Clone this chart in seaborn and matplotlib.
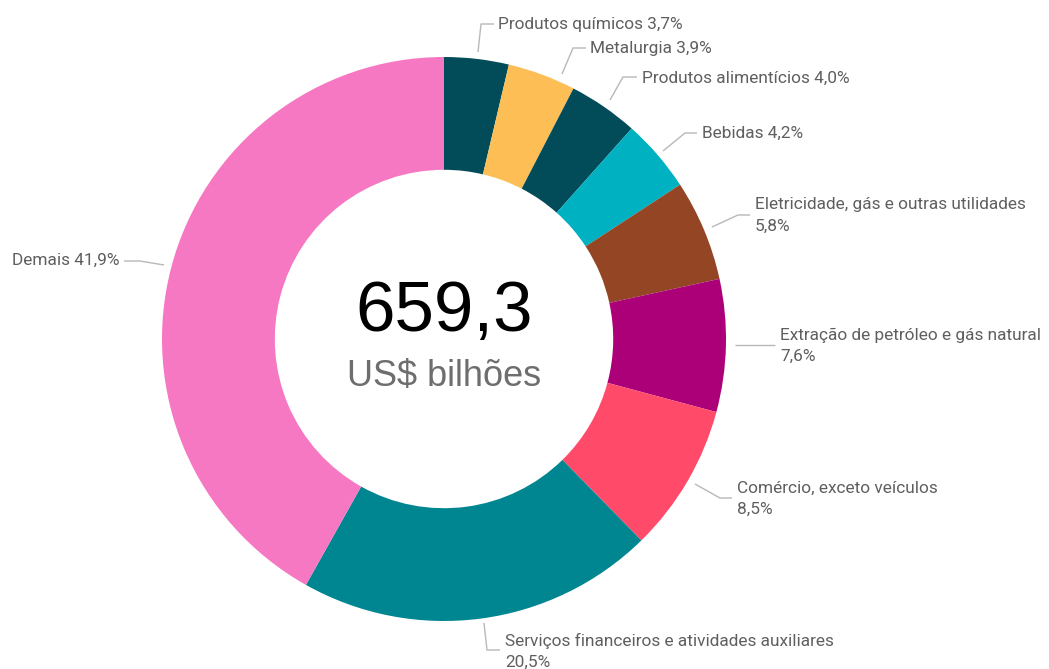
import matplotlib
matplotlib.use("Agg")
import matplotlib.pyplot as plt
import seaborn as sns

# Sector shares of the total (percent), clockwise from 12 o'clock
sectors = [
    "Produtos químicos",
    "Metalurgia",
    "Produtos alimentícios",
    "Bebidas",
    "Eletricidade, gás e outras utilidades",
    "Extração de petróleo e gás natural",
    "Comércio, exceto veículos",
    "Serviços financeiros e atividades auxiliares",
    "Demais",
]
shares = [3.7, 3.9, 4.0, 4.2, 5.8, 7.6, 8.5, 20.5, 41.9]
total_value = "659,3"
total_unit = "US$ bilhões"
colors = ["#024C5A", "#FDBE55", "#024C5A", "#00B1C2", "#934524",
          "#AC0079", "#FF4A6A", "#008690", "#F677C2"]

sns.set_theme(style="white")
plt.rcParams["font.family"] = ["Roboto", "DejaVu Sans"]

W, H = 1049, 669
fig = plt.figure(figsize=(W / 100, H / 100), dpi=100)
ax = fig.add_axes([0, 0, 1, 1])


def Y(y):
    # convert a top-based pixel row to the axes' y coordinate
    return H - y


cx, cy, R = 444, Y(339), 282
ax.pie(shares, colors=sns.color_palette(colors), startangle=90,
       counterclock=False, center=(cx, cy), radius=R,
       wedgeprops=dict(width=R * 0.4, linewidth=0), frame=True)
ax.set_xlim(0, W)
ax.set_ylim(0, H)
ax.set_aspect("equal")
ax.axis("off")


def pct(v):
    return f"{v:.1f}".replace(".", ",") + "%"


# leader line paths and text anchors (x, y of first text line)
layout = [
    ([(478, 52), (481, 24), (494, 24)], (498, 24), "one"),
    ([(562, 74), (573, 48), (586, 48)], (590, 49), "one"),
    ([(610, 100), (623, 77), (637, 77)], (642, 78), "one"),
    ([(663, 151), (685, 133), (697, 133)], (702, 133), "one"),
    ([(712, 227), (738, 215), (750, 215)], (755, 205), "two"),
    ([(735, 345), (775, 345)], (780, 335), "two"),
    ([(695, 484), (720, 498), (732, 498)], (737, 488), "two"),
    ([(484, 623), (487, 650), (500, 650)], (505, 641), "two"),
    ([(164, 265), (140, 261), (124, 261)], (120, 260), "left"),
]

txt_color = "#5F5F5F"
line_color = "#B8B8B8"
fs = 12.4
for name, v, (path, (tx, ty), mode) in zip(sectors, shares, layout):
    xs = [p[0] for p in path]
    ys = [Y(p[1]) for p in path]
    ax.plot(xs, ys, color=line_color, lw=1.0, solid_capstyle="butt")
    if mode == "one":
        ax.text(tx, Y(ty), f"{name} {pct(v)}", ha="left", va="center",
                fontsize=fs, color=txt_color)
    elif mode == "left":
        ax.text(tx, Y(ty), f"{name} {pct(v)}", ha="right", va="center",
                fontsize=fs, color=txt_color)
    else:
        ax.text(tx, Y(ty), name, ha="left", va="center",
                fontsize=fs, color=txt_color)
        ax.text(tx, Y(ty + 21), pct(v), ha="left", va="center",
                fontsize=fs, color=txt_color)

# total in the hole of the donut
ax.text(cx, Y(313), total_value, ha="center", va="center", fontsize=51,
        color="#000000", family=["Liberation Sans", "DejaVu Sans"])
ax.text(cx, Y(376), total_unit, ha="center", va="center", fontsize=26,
        color="#6E6E6E", family=["Liberation Sans", "DejaVu Sans"])

fig.savefig("out.png", dpi=100, facecolor="white")
